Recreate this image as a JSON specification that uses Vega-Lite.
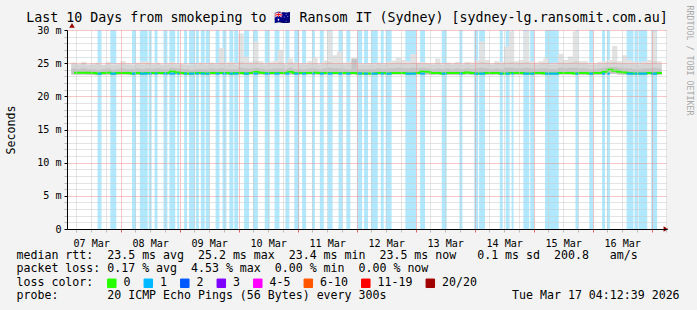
{
  "$schema": "https://vega.github.io/schema/vega-lite/v6.json",
  "width": 600,
  "height": 199,
  "autosize": {"type": "none"},
  "padding": {"left": 67, "top": 30, "right": 30, "bottom": 81},
  "background": "#f3f3f3",
  "config": {"font": "DejaVu Sans Mono", "view": {"fill": "white", "stroke": null}},
  "title": {
    "text": "Last 10 Days from smokeping to \ud83c\udde6\ud83c\uddfa Ransom IT (Sydney) [sydney-lg.ransomit.com.au]",
    "font": "DejaVu Sans Mono", "fontSize": 13.3, "fontWeight": "normal", "color": "black",
    "anchor": "middle", "frame": "group", "baseline": "alphabetic", "offset": -30.5, "dx": -20
  },
  "datasets": {
    "bands": [
      {"t0": "2026-03-07T14:37Z", "t1": "2026-03-07T16:13Z", "med": 23.42, "loss": "1"},
      {"t0": "2026-03-07T19:49Z", "t1": "2026-03-07T22:13Z", "med": 23.42, "loss": "1"},
      {"t0": "2026-03-08T04:37Z", "t1": "2026-03-08T06:13Z", "med": 23.42, "loss": "1"},
      {"t0": "2026-03-08T07:49Z", "t1": "2026-03-08T11:01Z", "med": 23.42, "loss": "1"},
      {"t0": "2026-03-08T11:25Z", "t1": "2026-03-08T12:37Z", "med": 23.42, "loss": "1"},
      {"t0": "2026-03-08T13:49Z", "t1": "2026-03-08T15:01Z", "med": 23.42, "loss": "1"},
      {"t0": "2026-03-08T17:25Z", "t1": "2026-03-08T19:01Z", "med": 23.42, "loss": "1"},
      {"t0": "2026-03-08T19:49Z", "t1": "2026-03-08T22:13Z", "med": 23.42, "loss": "1"},
      {"t0": "2026-03-08T23:01Z", "t1": "2026-03-08T23:49Z", "med": 23.42, "loss": "1"},
      {"t0": "2026-03-09T01:49Z", "t1": "2026-03-09T03:01Z", "med": 23.42, "loss": "1"},
      {"t0": "2026-03-09T03:49Z", "t1": "2026-03-09T06:13Z", "med": 23.42, "loss": "1"},
      {"t0": "2026-03-09T06:37Z", "t1": "2026-03-09T07:49Z", "med": 23.42, "loss": "1"},
      {"t0": "2026-03-09T08:37Z", "t1": "2026-03-09T10:13Z", "med": 23.42, "loss": "1"},
      {"t0": "2026-03-09T10:37Z", "t1": "2026-03-09T12:13Z", "med": 23.42, "loss": "1"},
      {"t0": "2026-03-09T14:37Z", "t1": "2026-03-09T16:13Z", "med": 23.42, "loss": "1"},
      {"t0": "2026-03-09T17:25Z", "t1": "2026-03-09T19:01Z", "med": 23.42, "loss": "1"},
      {"t0": "2026-03-09T20:13Z", "t1": "2026-03-09T21:49Z", "med": 23.42, "loss": "1"},
      {"t0": "2026-03-09T22:13Z", "t1": "2026-03-09T23:49Z", "med": 23.42, "loss": "1"},
      {"t0": "2026-03-10T02:13Z", "t1": "2026-03-10T04:13Z", "med": 23.42, "loss": "1"},
      {"t0": "2026-03-10T05:49Z", "t1": "2026-03-10T07:49Z", "med": 23.42, "loss": "1"},
      {"t0": "2026-03-10T10:37Z", "t1": "2026-03-10T12:37Z", "med": 23.42, "loss": "1"},
      {"t0": "2026-03-10T14:37Z", "t1": "2026-03-10T16:37Z", "med": 23.42, "loss": "1"},
      {"t0": "2026-03-10T19:01Z", "t1": "2026-03-10T20:37Z", "med": 23.42, "loss": "1"},
      {"t0": "2026-03-10T22:37Z", "t1": "2026-03-11T00:37Z", "med": 23.42, "loss": "1"},
      {"t0": "2026-03-11T01:49Z", "t1": "2026-03-11T03:25Z", "med": 23.42, "loss": "1"},
      {"t0": "2026-03-11T05:49Z", "t1": "2026-03-11T07:01Z", "med": 23.42, "loss": "1"},
      {"t0": "2026-03-11T09:01Z", "t1": "2026-03-11T10:37Z", "med": 23.42, "loss": "1"},
      {"t0": "2026-03-11T12:13Z", "t1": "2026-03-11T14:13Z", "med": 23.42, "loss": "1"},
      {"t0": "2026-03-11T16:37Z", "t1": "2026-03-11T18:13Z", "med": 23.42, "loss": "1"},
      {"t0": "2026-03-11T19:49Z", "t1": "2026-03-11T21:25Z", "med": 23.42, "loss": "1"},
      {"t0": "2026-03-12T00:13Z", "t1": "2026-03-12T02:13Z", "med": 23.45, "loss": "1"},
      {"t0": "2026-03-12T03:01Z", "t1": "2026-03-12T04:37Z", "med": 23.42, "loss": "1"},
      {"t0": "2026-03-12T05:49Z", "t1": "2026-03-12T08:37Z", "med": 23.42, "loss": "1"},
      {"t0": "2026-03-12T09:49Z", "t1": "2026-03-12T11:01Z", "med": 23.42, "loss": "1"},
      {"t0": "2026-03-12T11:49Z", "t1": "2026-03-12T14:13Z", "med": 23.42, "loss": "1"},
      {"t0": "2026-03-12T19:49Z", "t1": "2026-03-13T00:13Z", "med": 23.42, "loss": "1"},
      {"t0": "2026-03-13T01:49Z", "t1": "2026-03-13T03:49Z", "med": 23.42, "loss": "1"},
      {"t0": "2026-03-13T10:37Z", "t1": "2026-03-13T12:37Z", "med": 23.42, "loss": "1"},
      {"t0": "2026-03-13T17:49Z", "t1": "2026-03-13T19:01Z", "med": 23.42, "loss": "1"},
      {"t0": "2026-03-13T23:49Z", "t1": "2026-03-14T01:25Z", "med": 23.42, "loss": "1"},
      {"t0": "2026-03-14T01:49Z", "t1": "2026-03-14T04:13Z", "med": 23.42, "loss": "1"},
      {"t0": "2026-03-14T10:13Z", "t1": "2026-03-14T11:25Z", "med": 23.42, "loss": "1"},
      {"t0": "2026-03-14T12:37Z", "t1": "2026-03-14T14:13Z", "med": 23.42, "loss": "1"},
      {"t0": "2026-03-14T15:01Z", "t1": "2026-03-14T15:49Z", "med": 23.42, "loss": "1"},
      {"t0": "2026-03-14T19:49Z", "t1": "2026-03-14T22:13Z", "med": 23.42, "loss": "1"},
      {"t0": "2026-03-14T22:37Z", "t1": "2026-03-15T00:13Z", "med": 23.42, "loss": "1"},
      {"t0": "2026-03-15T04:37Z", "t1": "2026-03-15T10:13Z", "med": 23.42, "loss": "1"},
      {"t0": "2026-03-15T17:01Z", "t1": "2026-03-15T18:13Z", "med": 23.42, "loss": "1"},
      {"t0": "2026-03-15T22:37Z", "t1": "2026-03-16T00:13Z", "med": 23.42, "loss": "1"},
      {"t0": "2026-03-16T03:49Z", "t1": "2026-03-16T05:01Z", "med": 23.42, "loss": "1"},
      {"t0": "2026-03-16T05:49Z", "t1": "2026-03-16T07:01Z", "med": 23.42, "loss": "1"},
      {"t0": "2026-03-16T13:49Z", "t1": "2026-03-16T16:37Z", "med": 23.42, "loss": "1"},
      {"t0": "2026-03-16T17:01Z", "t1": "2026-03-16T18:13Z", "med": 23.42, "loss": "1"},
      {"t0": "2026-03-16T18:37Z", "t1": "2026-03-16T22:13Z", "med": 23.42, "loss": "1"},
      {"t0": "2026-03-16T23:49Z", "t1": "2026-03-17T02:13Z", "med": 23.42, "loss": "1"}
    ],
    "bins": [
      {"t": "2026-03-07T05:00Z", "lo": 23.3, "dk": 24.2, "hi": 24.9, "top": 25.1, "med": 23.55},
      {"t": "2026-03-07T07:00Z", "lo": 23.3, "dk": 24.1, "hi": 24.8, "top": 24.9, "med": 23.55},
      {"t": "2026-03-07T09:00Z", "lo": 23.3, "dk": 24.2, "hi": 25.0, "top": 25.2, "med": 23.55},
      {"t": "2026-03-07T11:00Z", "lo": 23.25, "dk": 24.1, "hi": 24.7, "top": 24.9, "med": 23.55},
      {"t": "2026-03-07T13:00Z", "lo": 23.25, "dk": 24.1, "hi": 24.8, "top": 25.0, "med": 23.5},
      {"t": "2026-03-07T15:00Z", "lo": 23.2, "dk": 24.0, "hi": 24.9, "top": 25.1, "med": 23.45},
      {"t": "2026-03-07T17:00Z", "lo": 23.25, "dk": 24.1, "hi": 24.7, "top": 24.8, "med": 23.5},
      {"t": "2026-03-07T19:00Z", "lo": 23.3, "dk": 24.2, "hi": 24.9, "top": 25.2, "med": 23.55},
      {"t": "2026-03-07T21:00Z", "lo": 23.2, "dk": 24.0, "hi": 24.7, "top": 24.9, "med": 23.45},
      {"t": "2026-03-07T23:00Z", "lo": 23.25, "dk": 24.1, "hi": 24.8, "top": 25.0, "med": 23.5},
      {"t": "2026-03-08T01:00Z", "lo": 23.3, "dk": 24.2, "hi": 24.9, "top": 25.3, "med": 23.5},
      {"t": "2026-03-08T03:00Z", "lo": 23.25, "dk": 24.1, "hi": 24.8, "top": 25.0, "med": 23.5},
      {"t": "2026-03-08T05:00Z", "lo": 23.2, "dk": 24.1, "hi": 24.7, "top": 24.9, "med": 23.45},
      {"t": "2026-03-08T07:00Z", "lo": 23.25, "dk": 24.2, "hi": 24.9, "top": 25.1, "med": 23.5},
      {"t": "2026-03-08T09:00Z", "lo": 23.2, "dk": 24.1, "hi": 24.8, "top": 25.3, "med": 23.45},
      {"t": "2026-03-08T11:00Z", "lo": 23.25, "dk": 24.2, "hi": 25.0, "top": 25.3, "med": 23.5},
      {"t": "2026-03-08T13:00Z", "lo": 23.25, "dk": 24.1, "hi": 24.8, "top": 25.0, "med": 23.5},
      {"t": "2026-03-08T15:00Z", "lo": 23.3, "dk": 24.2, "hi": 24.9, "top": 25.1, "med": 23.5},
      {"t": "2026-03-08T17:00Z", "lo": 23.25, "dk": 24.1, "hi": 24.7, "top": 24.9, "med": 23.5},
      {"t": "2026-03-08T19:00Z", "lo": 23.25, "dk": 24.1, "hi": 24.8, "top": 25.0, "med": 23.5},
      {"t": "2026-03-08T21:00Z", "lo": 23.3, "dk": 24.3, "hi": 24.9, "top": 25.2, "med": 23.8},
      {"t": "2026-03-08T23:00Z", "lo": 23.3, "dk": 24.2, "hi": 24.8, "top": 25.0, "med": 23.6},
      {"t": "2026-03-09T01:00Z", "lo": 23.25, "dk": 24.1, "hi": 24.8, "top": 24.9, "med": 23.5},
      {"t": "2026-03-09T03:00Z", "lo": 23.2, "dk": 24.1, "hi": 24.7, "top": 24.9, "med": 23.45},
      {"t": "2026-03-09T05:00Z", "lo": 23.2, "dk": 24.0, "hi": 24.7, "top": 24.8, "med": 23.45},
      {"t": "2026-03-09T07:00Z", "lo": 23.25, "dk": 24.1, "hi": 24.8, "top": 25.0, "med": 23.5},
      {"t": "2026-03-09T09:00Z", "lo": 23.25, "dk": 24.1, "hi": 24.9, "top": 25.1, "med": 23.5},
      {"t": "2026-03-09T11:00Z", "lo": 23.2, "dk": 24.1, "hi": 24.8, "top": 25.0, "med": 23.45},
      {"t": "2026-03-09T13:00Z", "lo": 23.25, "dk": 24.2, "hi": 24.9, "top": 25.1, "med": 23.5},
      {"t": "2026-03-09T15:00Z", "lo": 23.25, "dk": 24.1, "hi": 24.8, "top": 25.0, "med": 23.5},
      {"t": "2026-03-09T17:00Z", "lo": 23.3, "dk": 24.2, "hi": 25.0, "top": 27.3, "med": 23.5},
      {"t": "2026-03-09T19:00Z", "lo": 23.25, "dk": 24.1, "hi": 24.8, "top": 25.1, "med": 23.5},
      {"t": "2026-03-09T21:00Z", "lo": 23.2, "dk": 24.1, "hi": 24.9, "top": 25.2, "med": 23.45},
      {"t": "2026-03-09T23:00Z", "lo": 23.25, "dk": 24.1, "hi": 24.8, "top": 25.0, "med": 23.5},
      {"t": "2026-03-10T01:00Z", "lo": 23.3, "dk": 24.3, "hi": 25.2, "top": 29.5, "med": 23.5},
      {"t": "2026-03-10T03:00Z", "lo": 23.25, "dk": 24.2, "hi": 25.0, "top": 26.0, "med": 23.45},
      {"t": "2026-03-10T05:00Z", "lo": 23.3, "dk": 24.2, "hi": 24.9, "top": 25.2, "med": 23.5},
      {"t": "2026-03-10T07:00Z", "lo": 23.3, "dk": 24.3, "hi": 25.3, "top": 28.3, "med": 23.7},
      {"t": "2026-03-10T09:00Z", "lo": 23.3, "dk": 24.2, "hi": 24.9, "top": 25.3, "med": 23.55},
      {"t": "2026-03-10T11:00Z", "lo": 23.25, "dk": 24.1, "hi": 24.8, "top": 25.0, "med": 23.5},
      {"t": "2026-03-10T13:00Z", "lo": 23.25, "dk": 24.1, "hi": 24.9, "top": 25.2, "med": 23.5},
      {"t": "2026-03-10T15:00Z", "lo": 23.25, "dk": 24.2, "hi": 24.9, "top": 25.4, "med": 23.5},
      {"t": "2026-03-10T17:00Z", "lo": 23.3, "dk": 24.2, "hi": 25.1, "top": 27.0, "med": 23.5},
      {"t": "2026-03-10T19:00Z", "lo": 23.25, "dk": 24.1, "hi": 24.8, "top": 25.0, "med": 23.5},
      {"t": "2026-03-10T21:00Z", "lo": 23.3, "dk": 24.3, "hi": 25.1, "top": 25.7, "med": 23.7},
      {"t": "2026-03-10T23:00Z", "lo": 23.25, "dk": 24.1, "hi": 24.9, "top": 25.1, "med": 23.5},
      {"t": "2026-03-11T01:00Z", "lo": 23.25, "dk": 24.1, "hi": 24.8, "top": 25.0, "med": 23.5},
      {"t": "2026-03-11T03:00Z", "lo": 23.25, "dk": 24.1, "hi": 24.8, "top": 25.0, "med": 23.5},
      {"t": "2026-03-11T05:00Z", "lo": 23.3, "dk": 24.2, "hi": 24.9, "top": 25.3, "med": 23.5},
      {"t": "2026-03-11T07:00Z", "lo": 23.3, "dk": 24.2, "hi": 25.0, "top": 25.8, "med": 23.55},
      {"t": "2026-03-11T09:00Z", "lo": 23.25, "dk": 24.1, "hi": 24.8, "top": 25.0, "med": 23.5},
      {"t": "2026-03-11T11:00Z", "lo": 23.25, "dk": 24.2, "hi": 24.9, "top": 25.4, "med": 23.5},
      {"t": "2026-03-11T13:00Z", "lo": 23.3, "dk": 24.3, "hi": 25.2, "top": 29.8, "med": 23.5},
      {"t": "2026-03-11T15:00Z", "lo": 23.3, "dk": 24.2, "hi": 25.0, "top": 26.2, "med": 23.5},
      {"t": "2026-03-11T17:00Z", "lo": 23.3, "dk": 24.2, "hi": 25.0, "top": 26.7, "med": 23.5},
      {"t": "2026-03-11T19:00Z", "lo": 23.25, "dk": 24.1, "hi": 24.8, "top": 25.1, "med": 23.5},
      {"t": "2026-03-11T21:00Z", "lo": 23.25, "dk": 24.1, "hi": 24.9, "top": 25.2, "med": 23.5},
      {"t": "2026-03-11T23:00Z", "lo": 23.3, "dk": 25.6, "hi": 25.7, "top": 25.8, "med": 23.5},
      {"t": "2026-03-12T01:00Z", "lo": 23.25, "dk": 24.1, "hi": 24.8, "top": 25.0, "med": 23.45},
      {"t": "2026-03-12T03:00Z", "lo": 23.25, "dk": 24.1, "hi": 24.8, "top": 24.9, "med": 23.45},
      {"t": "2026-03-12T05:00Z", "lo": 23.2, "dk": 24.1, "hi": 24.8, "top": 25.0, "med": 23.45},
      {"t": "2026-03-12T07:00Z", "lo": 23.25, "dk": 24.1, "hi": 24.8, "top": 25.0, "med": 23.45},
      {"t": "2026-03-12T09:00Z", "lo": 23.25, "dk": 24.2, "hi": 24.9, "top": 25.1, "med": 23.5},
      {"t": "2026-03-12T11:00Z", "lo": 23.25, "dk": 24.1, "hi": 24.8, "top": 25.0, "med": 23.5},
      {"t": "2026-03-12T13:00Z", "lo": 23.25, "dk": 24.2, "hi": 24.9, "top": 25.2, "med": 23.45},
      {"t": "2026-03-12T15:00Z", "lo": 23.3, "dk": 24.2, "hi": 25.0, "top": 25.4, "med": 23.5},
      {"t": "2026-03-12T17:00Z", "lo": 23.3, "dk": 24.3, "hi": 25.1, "top": 25.8, "med": 23.5},
      {"t": "2026-03-12T19:00Z", "lo": 23.3, "dk": 24.2, "hi": 25.0, "top": 25.5, "med": 23.5},
      {"t": "2026-03-12T21:00Z", "lo": 23.25, "dk": 24.2, "hi": 24.9, "top": 25.3, "med": 23.45},
      {"t": "2026-03-12T23:00Z", "lo": 23.3, "dk": 24.3, "hi": 25.1, "top": 26.4, "med": 23.45},
      {"t": "2026-03-13T01:00Z", "lo": 23.3, "dk": 24.2, "hi": 24.9, "top": 25.1, "med": 23.5},
      {"t": "2026-03-13T03:00Z", "lo": 23.3, "dk": 24.3, "hi": 24.9, "top": 25.2, "med": 23.8},
      {"t": "2026-03-13T05:00Z", "lo": 23.3, "dk": 24.2, "hi": 24.9, "top": 25.0, "med": 23.7},
      {"t": "2026-03-13T07:00Z", "lo": 23.25, "dk": 24.1, "hi": 24.8, "top": 25.0, "med": 23.5},
      {"t": "2026-03-13T09:00Z", "lo": 23.3, "dk": 24.2, "hi": 25.0, "top": 25.7, "med": 23.5},
      {"t": "2026-03-13T11:00Z", "lo": 23.25, "dk": 24.1, "hi": 24.8, "top": 25.0, "med": 23.45},
      {"t": "2026-03-13T13:00Z", "lo": 23.25, "dk": 24.2, "hi": 24.9, "top": 25.1, "med": 23.5},
      {"t": "2026-03-13T15:00Z", "lo": 23.25, "dk": 24.1, "hi": 24.8, "top": 25.0, "med": 23.5},
      {"t": "2026-03-13T17:00Z", "lo": 23.25, "dk": 24.2, "hi": 24.9, "top": 25.2, "med": 23.5},
      {"t": "2026-03-13T19:00Z", "lo": 23.25, "dk": 24.1, "hi": 24.8, "top": 25.0, "med": 23.5},
      {"t": "2026-03-13T21:00Z", "lo": 23.3, "dk": 24.2, "hi": 24.9, "top": 25.2, "med": 23.6},
      {"t": "2026-03-13T23:00Z", "lo": 23.25, "dk": 24.1, "hi": 24.8, "top": 25.1, "med": 23.5},
      {"t": "2026-03-14T01:00Z", "lo": 23.25, "dk": 24.2, "hi": 25.0, "top": 25.4, "med": 23.45},
      {"t": "2026-03-14T03:00Z", "lo": 23.3, "dk": 24.3, "hi": 25.2, "top": 28.3, "med": 23.45},
      {"t": "2026-03-14T05:00Z", "lo": 23.25, "dk": 24.2, "hi": 25.0, "top": 25.5, "med": 23.5},
      {"t": "2026-03-14T07:00Z", "lo": 23.25, "dk": 24.1, "hi": 24.8, "top": 25.0, "med": 23.5},
      {"t": "2026-03-14T09:00Z", "lo": 23.3, "dk": 24.2, "hi": 25.0, "top": 25.3, "med": 23.5},
      {"t": "2026-03-14T11:00Z", "lo": 23.25, "dk": 24.1, "hi": 24.9, "top": 25.2, "med": 23.45},
      {"t": "2026-03-14T13:00Z", "lo": 23.3, "dk": 24.3, "hi": 25.1, "top": 27.5, "med": 23.45},
      {"t": "2026-03-14T15:00Z", "lo": 23.3, "dk": 24.3, "hi": 25.2, "top": 29.8, "med": 23.5},
      {"t": "2026-03-14T17:00Z", "lo": 23.25, "dk": 24.2, "hi": 24.9, "top": 25.3, "med": 23.5},
      {"t": "2026-03-14T19:00Z", "lo": 23.25, "dk": 24.2, "hi": 25.0, "top": 25.5, "med": 23.5},
      {"t": "2026-03-14T21:00Z", "lo": 23.3, "dk": 24.3, "hi": 25.2, "top": 29.8, "med": 23.45},
      {"t": "2026-03-14T23:00Z", "lo": 23.25, "dk": 24.2, "hi": 24.9, "top": 25.3, "med": 23.45},
      {"t": "2026-03-15T01:00Z", "lo": 23.25, "dk": 24.1, "hi": 24.8, "top": 25.1, "med": 23.5},
      {"t": "2026-03-15T03:00Z", "lo": 23.25, "dk": 24.2, "hi": 24.9, "top": 25.3, "med": 23.5},
      {"t": "2026-03-15T05:00Z", "lo": 23.3, "dk": 24.2, "hi": 25.0, "top": 25.7, "med": 23.45},
      {"t": "2026-03-15T07:00Z", "lo": 23.25, "dk": 24.1, "hi": 24.8, "top": 25.0, "med": 23.45},
      {"t": "2026-03-15T09:00Z", "lo": 23.25, "dk": 24.1, "hi": 24.8, "top": 25.1, "med": 23.45},
      {"t": "2026-03-15T11:00Z", "lo": 23.3, "dk": 24.3, "hi": 25.1, "top": 26.4, "med": 23.5},
      {"t": "2026-03-15T13:00Z", "lo": 23.3, "dk": 24.2, "hi": 25.0, "top": 25.5, "med": 23.5},
      {"t": "2026-03-15T15:00Z", "lo": 23.3, "dk": 24.3, "hi": 25.1, "top": 26.0, "med": 23.5},
      {"t": "2026-03-15T17:00Z", "lo": 23.3, "dk": 24.3, "hi": 25.3, "top": 29.8, "med": 23.45},
      {"t": "2026-03-15T19:00Z", "lo": 23.25, "dk": 24.2, "hi": 24.9, "top": 25.3, "med": 23.5},
      {"t": "2026-03-15T21:00Z", "lo": 23.25, "dk": 24.2, "hi": 25.0, "top": 25.3, "med": 23.5},
      {"t": "2026-03-15T23:00Z", "lo": 23.25, "dk": 24.1, "hi": 24.8, "top": 25.1, "med": 23.45},
      {"t": "2026-03-16T01:00Z", "lo": 23.25, "dk": 24.1, "hi": 24.8, "top": 25.0, "med": 23.5},
      {"t": "2026-03-16T03:00Z", "lo": 23.25, "dk": 24.2, "hi": 24.9, "top": 25.2, "med": 23.5},
      {"t": "2026-03-16T05:00Z", "lo": 23.3, "dk": 24.3, "hi": 25.0, "top": 25.3, "med": 23.7},
      {"t": "2026-03-16T07:00Z", "lo": 23.4, "dk": 24.4, "hi": 25.1, "top": 25.5, "med": 24.0},
      {"t": "2026-03-16T09:00Z", "lo": 23.4, "dk": 24.4, "hi": 25.2, "top": 27.6, "med": 23.85},
      {"t": "2026-03-16T11:00Z", "lo": 23.3, "dk": 24.3, "hi": 25.0, "top": 25.3, "med": 23.7},
      {"t": "2026-03-16T13:00Z", "lo": 23.3, "dk": 24.2, "hi": 25.0, "top": 26.2, "med": 23.6},
      {"t": "2026-03-16T15:00Z", "lo": 23.25, "dk": 24.2, "hi": 24.9, "top": 25.5, "med": 23.5},
      {"t": "2026-03-16T17:00Z", "lo": 23.25, "dk": 24.1, "hi": 24.9, "top": 25.2, "med": 23.45},
      {"t": "2026-03-16T19:00Z", "lo": 23.25, "dk": 24.1, "hi": 24.8, "top": 25.1, "med": 23.45},
      {"t": "2026-03-16T21:00Z", "lo": 23.25, "dk": 24.2, "hi": 24.9, "top": 25.3, "med": 23.45},
      {"t": "2026-03-16T23:00Z", "lo": 23.3, "dk": 24.2, "hi": 25.0, "top": 25.5, "med": 23.5},
      {"t": "2026-03-17T01:00Z", "lo": 23.3, "dk": 24.3, "hi": 25.3, "top": 29.8, "med": 23.45},
      {"t": "2026-03-17T03:00Z", "lo": 23.25, "dk": 24.2, "hi": 24.9, "top": 25.3, "med": 23.5},
      {"t": "2026-03-17T04:12:39Z", "med": 23.5}
    ]
  },
  "resolve": {"axis": {"y": "independent"}},
  "layer": [
    {
      "data": {"name": "bands"},
      "mark": {"type": "rect", "fillOpacity": 0.31, "clip": true},
      "encoding": {
        "x": {
          "field": "t0", "type": "temporal",
          "scale": {"type": "utc", "nice": false, "domain": [1772856759000, 1773720759000]},
          "axis": {
            "tickCount": 40,
            "labelExpr": "utchours(datum.value) == 12 ? utcFormat(datum.value, '%d %b') : ''",
            "labelFont": "DejaVu Sans Mono", "labelFontSize": 10.1, "labelColor": "black",
            "labelBaseline": "alphabetic", "labelPadding": 14, "labelOverlap": false, "labelFlush": false, "labelBound": false,
            "grid": true, "gridDash": [1, 1], "gridWidth": 1,
            "gridColor": {"condition": {"test": "utchours(datum.value) == 0", "value": "#ef8f8f"}, "value": "#c8c8c8"},
            "ticks": true, "tickSize": 3,
            "tickColor": {"condition": {"test": "utchours(datum.value) == 0", "value": "#e06060"}, "value": "#bbbbbb"},
            "domain": true, "domainColor": "black", "domainWidth": 1,
            "zindex": 1,
            "title": [
              "median rtt:\u00a0\u00a023.5 ms avg\u00a0\u00a025.2 ms max\u00a0\u00a023.4 ms min\u00a0\u00a023.5 ms now\u00a0\u00a0\u00a00.1 ms sd\u00a0\u00a0200.8\u00a0\u00a0\u00a0am/s",
              "packet loss: 0.17 % avg\u00a0\u00a04.53 % max\u00a0\u00a00.00 % min\u00a0\u00a00.00 % now",
              "loss color:",
              "probe:\u00a0\u00a0\u00a0\u00a0\u00a0\u00a0\u00a020 ICMP Echo Pings (56 Bytes) every 300s\u00a0\u00a0\u00a0\u00a0\u00a0\u00a0\u00a0\u00a0\u00a0\u00a0\u00a0\u00a0\u00a0\u00a0\u00a0\u00a0\u00a0\u00a0Tue Mar 17 04:12:39 2026"
            ],
            "titleFont": "DejaVu Sans Mono", "titleFontSize": 11.6, "titleFontWeight": "normal", "titleColor": "black",
            "titleAlign": "left", "titleAnchor": "start", "titleBaseline": "alphabetic", "titleLineHeight": 13.5,
            "titleX": -51, "titleY": 29
          }
        },
        "x2": {"field": "t1"},
        "color": {
          "field": "loss", "type": "nominal",
          "scale": {
            "domain": ["0", "1", "2", "3", "4-5", "6-10", "11-19", "20/20"],
            "range": ["#26ff00", "#00b8ff", "#0059ff", "#7e00ff", "#ff00ff", "#ff5500", "#ff0000", "#a10000"]
          },
          "legend": {
            "title": null, "orient": "none", "direction": "horizontal", "legendX": 39, "legendY": 247,
            "symbolType": "square", "symbolSize": 72, "symbolStrokeWidth": 1, "symbolStrokeColor": "black", "symbolOpacity": 1,
            "labelFont": "DejaVu Sans Mono", "labelFontSize": 11.6, "labelColor": "black",
            "labelOffset": 6, "columnPadding": 10.5, "padding": 0
          }
        }
      }
    },
    {
      "data": {"name": "bins"},
      "transform": [{"filter": "isValid(datum.lo)"}],
      "mark": {"type": "bar", "color": "#e2e2e2", "width": 5.3, "clip": true},
      "encoding": {
        "x": {"field": "t", "type": "temporal"},
        "y": {
          "field": "lo", "type": "quantitative",
          "scale": {"domain": [0, 30], "nice": false, "zero": false},
          "axis": {
            "values": [0,1,2,3,4,5,6,7,8,9,10,11,12,13,14,15,16,17,18,19,20,21,22,23,24,25,26,27,28,29,30],
            "labelExpr": "datum.value % 5 == 0 ? (datum.value == 0 ? '0' : datum.value + ' m') : ''",
            "labelFont": "DejaVu Sans Mono", "labelFontSize": 10.1, "labelColor": "black", "labelPadding": 3, "labelBaseline": "middle",
            "labelOverlap": false, "labelBound": false, "labelFlush": false,
            "grid": true, "gridDash": [1, 1], "gridWidth": 1,
            "gridColor": {"condition": {"test": "datum.value % 5 == 0", "value": "#ef8f8f"}, "value": "#c8c8c8"},
            "tickSize": 3,
            "tickColor": {"condition": {"test": "datum.value % 5 == 0", "value": "black"}, "value": "#bbbbbb"},
            "domain": true, "domainColor": "black", "domainWidth": 1,
            "title": "Seconds", "titleFont": "DejaVu Sans Mono", "titleFontSize": 11.6, "titleFontWeight": "normal", "titleColor": "black",
            "titleAngle": 270, "titleX": -56, "titleY": 99.5, "titleAlign": "center", "titleBaseline": "middle",
            "zindex": 1
          }
        },
        "y2": {"field": "top"}
      }
    },
    {
      "data": {"name": "bins"},
      "transform": [{"filter": "isValid(datum.lo)"}],
      "mark": {"type": "bar", "color": "#d5d5d5", "width": 5.3, "clip": true},
      "encoding": {
        "x": {"field": "t", "type": "temporal"},
        "y": {"field": "lo", "type": "quantitative", "axis": null},
        "y2": {"field": "hi"}
      }
    },
    {
      "data": {"name": "bins"},
      "transform": [{"filter": "isValid(datum.lo)"}],
      "mark": {"type": "bar", "color": "#c3c3c3", "width": 5.3, "clip": true},
      "encoding": {
        "x": {"field": "t", "type": "temporal"},
        "y": {"field": "lo", "type": "quantitative", "axis": null},
        "y2": {"field": "dk"}
      }
    },
    {
      "data": {"name": "bins"},
      "mark": {"type": "line", "interpolate": "step", "strokeWidth": 2, "color": "#26ff00", "clip": true},
      "encoding": {
        "x": {"field": "t", "type": "temporal"},
        "y": {
          "field": "med", "type": "quantitative",
          "axis": {
            "orient": "right", "labels": false, "ticks": false, "domain": false, "grid": false,
            "title": "RRDTOOL / TOBI OETIKER", "titleFont": "DejaVu Sans Mono", "titleFontSize": 8.3,
            "titleFontWeight": "normal", "titleColor": "#a8a8a8", "titleAngle": 90,
            "titleX": 21, "titleY": 30, "titleAlign": "center", "titleBaseline": "middle"
          }
        }
      }
    },
    {
      "data": {"name": "bands"},
      "mark": {"type": "rule", "strokeWidth": 2, "clip": true},
      "encoding": {
        "x": {"field": "t0", "type": "temporal"},
        "x2": {"field": "t1"},
        "y": {"field": "med", "type": "quantitative", "axis": null},
        "color": {"field": "loss", "type": "nominal", "legend": null}
      }
    },
    {
      "data": {"values": [{}]},
      "mark": {"type": "point", "shape": "triangle-up", "filled": true, "size": 30, "color": "#9a0000", "opacity": 1, "clip": false},
      "encoding": {
        "x": {"datum": 1772856759000, "type": "temporal"},
        "y": {"datum": 30.7, "type": "quantitative", "axis": null}
      }
    },
    {
      "data": {"values": [{}]},
      "mark": {"type": "point", "shape": "triangle-right", "filled": true, "size": 30, "color": "#9a0000", "opacity": 1, "clip": false},
      "encoding": {
        "x": {"datum": 1773726480000, "type": "temporal"},
        "y": {"datum": 0, "type": "quantitative", "axis": null}
      }
    }
  ]
}
